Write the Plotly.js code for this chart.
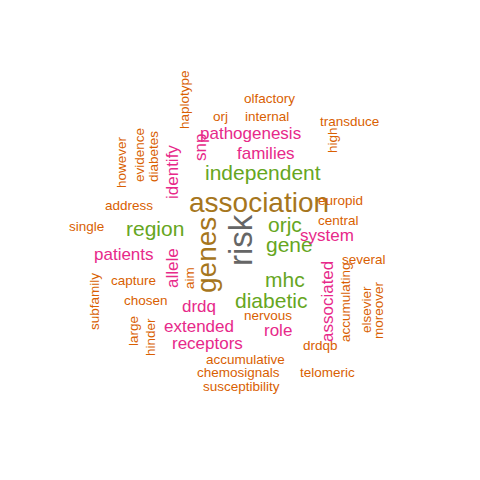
<!DOCTYPE html>
<html><head><meta charset="utf-8">
<script src="https://cdn.plot.ly/plotly-3.0.1.min.js"></script>
<style>body{margin:0}#c{width:480px;height:480px}</style>
</head><body><div id="c"></div>
<script>
var words = ['risk','association','genes','independent','orjc','gene','region','mhc','diabetic',
  'pathogenesis','families','snp','identify','system','patients','allele','drdq','extended','role','receptors','associated',
  'haplotype','olfactory','orj','internal','transduce','high','however','evidence','diabetes','address','europid','central',
  'single','several','capture','aim','accumulating','elsevier','moreover','subfamily','chosen','large','hinder','nervous',
  'drdqb','accumulative','chemosignals','telomeric','susceptibility'];
var xs = [240,259,206,263,285,289,155,285,271, 250,266,200,172,327,124,172,199,199,278,207,327,
  184,269,220,267,349,332,121,139,153,129,340,338, 86,364,133,189,345,366,378,94,146,133,150,268,
  320,245,238,327,241];
var ys = [240,202,255,172,224,244,228,279,300, 133,153,148,172,235,254,268,306,326,330,343,302,
  100,98,116,116,121,140,162,155,157,205,200,220, 226,259,280,278,302,310,310,302,300,331,337,315,
  345,359,372,372,386];
var freq = [5,4,4,3,3,3,3,3,3, 2,2,2,2,2,2,2,2,2,2,2,2,
  1,1,1,1,1,1,1,1,1,1,1,1, 1,1,1,1,1,1,1,1,1,1,1,1, 1,1,1,1,1];
var vertical = ['risk','genes','snp','identify','allele','associated','haplotype','high','however','evidence',
  'diabetes','aim','accumulating','elsevier','moreover','subfamily','large','hinder'];

var sizes = {5:33, 4:28, 3:21, 2:17, 1:13.5};
var colors = {5:'#666666', 4:'#A6761D', 3:'#66A61E', 2:'#E7298A', 1:'#D95F02'};

var annotations = words.map(function (w, i) {
  return {
    x: xs[i], y: ys[i], xref: 'x', yref: 'y', text: w, showarrow: false,
    textangle: vertical.indexOf(w) >= 0 ? -90 : 0,
    font: {family: 'Liberation Sans, Arial, sans-serif', size: sizes[freq[i]], color: colors[freq[i]]}
  };
});

Plotly.newPlot('c', [{x: xs, y: ys, mode: 'markers', marker: {opacity: 0}, hoverinfo: 'skip'}], {
  width: 480, height: 480, margin: {l: 0, r: 0, t: 0, b: 0},
  xaxis: {range: [0, 480], visible: false},
  yaxis: {range: [480, 0], visible: false},
  showlegend: false, annotations: annotations,
  paper_bgcolor: 'white', plot_bgcolor: 'white'
}, {staticPlot: true});
</script></body></html>
